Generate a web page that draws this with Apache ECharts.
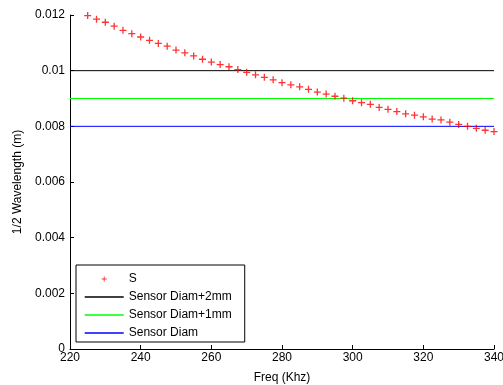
<!DOCTYPE html>
<html>
<head>
<meta charset="utf-8">
<script src="https://cdn.jsdelivr.net/npm/echarts@6/dist/echarts.min.js"></script>
<style>html,body{margin:0;padding:0;background:#fff}#c{width:503px;height:385px}</style>
</head>
<body>
<div id="c"></div>
<script>
var freq = [225,227.5,230,232.5,235,237.5,240,242.5,245,247.5,250,252.5,255,257.5,260,262.5,265,267.5,270,272.5,275,277.5,280,282.5,285,287.5,290,292.5,295,297.5,300,302.5,305,307.5,310,312.5,315,317.5,320,322.5,325,327.5,330,332.5,335,337.5,340];
var sValues = [0.01198,0.01185,0.01174,0.01160,0.01145,0.01133,0.01121,0.01109,0.01098,0.01088,0.01074,0.01064,0.01053,0.01041,0.01031,0.01022,0.01014,0.01004,0.00994,0.00985,0.00976,0.00967,0.00957,0.00949,0.00942,0.00933,0.00923,0.00916,0.00908,0.00901,0.00892,0.00885,0.00879,0.00868,0.00861,0.00853,0.00845,0.00840,0.00834,0.00826,0.00823,0.00815,0.00807,0.00800,0.00793,0.00786,0.00781];
var lineX = [220, 340];
var diamPlus2 = 0.010;
var diamPlus1 = 0.009;
var diam = 0.008;
var seriesNames = ['S','Sensor Diam+2mm','Sensor Diam+1mm','Sensor Diam'];

var chart = echarts.init(document.getElementById('c'));
var font = 'Liberation Sans, Arial, sans-serif';
var plus = 'path://M2.85,0H4.15V2.85H7V4.15H4.15V7H2.85V4.15H0V2.85H2.85Z';
var plusLegend = 'path://M-23.8,-4.9M30.8,11.9M2.85,0H4.15V2.85H7V4.15H4.15V7H2.85V4.15H0V2.85H2.85Z';
function hline(v){ return lineX.map(function(x){return [x, v];}); }
chart.setOption({
  animation: false,
  backgroundColor: '#fff',
  textStyle: {fontFamily: font},
  grid: {left: 70, right: 9, top: 15, bottom: 36, outerBoundsMode: 'none', containLabel: false},
  xAxis: {
    type: 'value', min: 220, max: 340, interval: 20,
    name: 'Freq (Khz)', nameLocation: 'middle', nameGap: 23,
    nameTextStyle: {color: '#000', fontSize: 12, fontFamily: font},
    axisLine: {lineStyle: {color: '#000', width: 1}},
    axisTick: {inside: true, length: 4, lineStyle: {color: '#000'}},
    axisLabel: {color: '#000', fontSize: 12, margin: 3, fontFamily: font},
    splitLine: {show: false}
  },
  yAxis: {
    type: 'value', min: 0, max: 0.012, interval: 0.002,
    name: '1/2 Wavelength (m)', nameLocation: 'middle', nameGap: 41,
    nameTextStyle: {color: '#000', fontSize: 12, fontFamily: font},
    axisLine: {show: true, lineStyle: {color: '#000', width: 1}},
    axisTick: {show: true, inside: true, length: 4, lineStyle: {color: '#000'}},
    axisLabel: {color: '#000', fontSize: 12, margin: 5, fontFamily: font,
      formatter: function(v){ return String(+v.toFixed(4)); }},
    splitLine: {show: false}
  },
  legend: {
    orient: 'vertical', left: 76, top: 265,
    padding: [8, 13, 3, 8], itemGap: 6, itemWidth: 39, itemHeight: 12,
    backgroundColor: '#fff', borderColor: '#000', borderWidth: 1, borderRadius: 0,
    textStyle: {color: '#000', fontSize: 12, fontFamily: font},
    data: [
      {name: seriesNames[0], icon: plusLegend},
      {name: seriesNames[1], itemStyle: {opacity: 0}, lineStyle: {width: 1.4}},
      {name: seriesNames[2], itemStyle: {opacity: 0}, lineStyle: {width: 1.4}},
      {name: seriesNames[3], itemStyle: {opacity: 0}, lineStyle: {width: 1.4}}
    ]
  },
  series: [
    {name: seriesNames[0], type: 'scatter', symbol: plus, symbolSize: 7,
     itemStyle: {color: '#ff0000'},
     data: freq.map(function(f, i){ return [f, sValues[i]]; }), z: 5},
    {name: seriesNames[1], type: 'line', symbol: 'none', data: hline(diamPlus2),
     lineStyle: {color: '#000000', width: 1}, itemStyle: {color: '#000000'}},
    {name: seriesNames[2], type: 'line', symbol: 'none', data: hline(diamPlus1),
     lineStyle: {color: '#00ff00', width: 1}, itemStyle: {color: '#00ff00'}},
    {name: seriesNames[3], type: 'line', symbol: 'none', data: hline(diam),
     lineStyle: {color: '#0000ff', width: 1}, itemStyle: {color: '#0000ff'}}
  ]
});
</script>
</body>
</html>
